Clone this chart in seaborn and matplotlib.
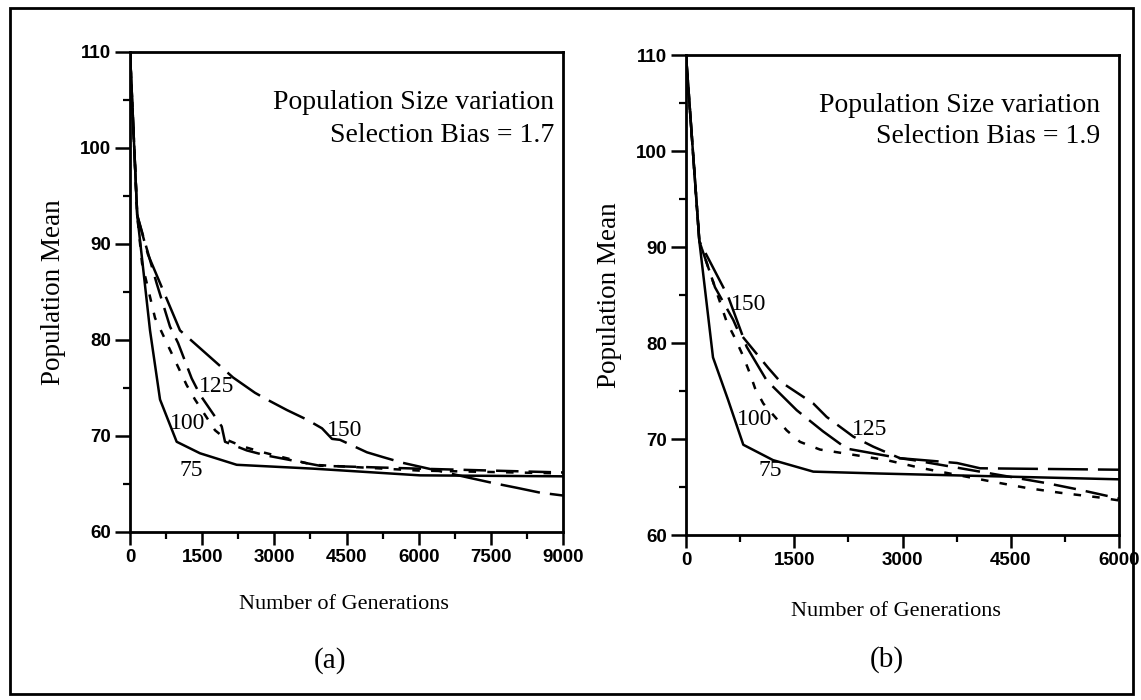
import matplotlib
matplotlib.use("Agg")
import matplotlib.pyplot as plt
from matplotlib.ticker import MultipleLocator
from matplotlib.patches import Rectangle
import seaborn as sns
import pandas as pd

sns.set_theme(style="white")
plt.rcParams["font.family"] = ["Liberation Serif", "DejaVu Serif"]

# ---- data: population mean vs generations, one curve per population size ----
# (a) selection bias 1.7
a75_x = [0, 150, 416, 624, 970, 1455, 2218, 3804, 6028, 9000]
a75_y = [110, 93.0, 81.0, 73.8, 69.4, 68.2, 67.0, 66.6, 65.9, 65.8]

a100_x = [0, 150, 250, 520, 867, 1178, 1351, 1767, 2010, 2349, 2764, 3804, 6000, 9000]
a100_y = [110, 93.0, 88.0, 82.3, 78.6, 75.3, 73.8, 70.6, 69.6, 68.9, 68.3, 67.0, 66.4, 66.1]

a125_x = [0, 150, 554, 831, 998, 1282, 1455, 1906, 1975, 2426, 2806, 3533, 3949, 6000, 9000]
a125_y = [110, 93.0, 85.9, 81.4, 79.7, 76.0, 74.3, 71.0, 69.4, 68.5, 68.0, 67.3, 66.9, 66.6, 66.2]

a150_x = [0, 150, 374, 1039, 2141, 2598, 2847, 3263, 3679, 3991, 4199, 4365, 4926, 5259, 5674,
          6028, 7005, 7545, 8044, 8522, 9000]
a150_y = [110, 93.0, 88.9, 81.0, 76.1, 74.5, 73.8, 72.7, 71.7, 70.8, 69.7, 69.6, 68.3, 67.8, 67.2,
          66.8, 65.7, 65.1, 64.6, 64.1, 63.8]

# (b) selection bias 1.9
b75_x = [0, 185, 374, 582, 794, 1206, 1764, 2700, 6000]
b75_y = [110, 90.6, 78.5, 74.1, 69.4, 67.8, 66.6, 66.4, 65.8]

b100_x = [0, 185, 564, 679, 794, 887, 956, 1071, 1395, 1580, 1857, 2365, 2781, 3243, 4213, 4721,
          5183, 5737, 6000]
b100_y = [110, 90.6, 82.2, 80.5, 78.6, 76.8, 75.3, 73.7, 70.9, 69.7, 68.9, 68.3, 67.8, 67.0, 65.6,
          64.9, 64.4, 63.9, 63.6]

b125_x = [0, 185, 402, 655, 725, 1140, 1303, 1764, 1949, 2318, 2595, 2965, 3150, 4074, 4998,
          5460, 6000]
b125_y = [110, 90.6, 85.8, 82.4, 81.2, 77.4, 76.0, 73.7, 72.3, 70.25, 69.2, 68.0, 67.8, 66.6, 65.4,
          64.7, 63.8]

b150_x = [0, 185, 586, 841, 1118, 1534, 1898, 2227, 2965, 3284, 3755, 4074, 6000]
b150_y = [110, 90.6, 84.8, 79.6, 76.1, 73.0, 70.8, 69.0, 68.0, 67.8, 67.5, 66.95, 66.8]

sizes = ["75", "100", "125", "150"]
styles = {
    "75": "-",
    "100": (0, (3, 4.5)),
    "125": (0, (9, 4)),
    "150": (0, (16, 4)),
}

panel_a = {"75": (a75_x, a75_y), "100": (a100_x, a100_y),
           "125": (a125_x, a125_y), "150": (a150_x, a150_y)}
panel_b = {"75": (b75_x, b75_y), "100": (b100_x, b100_y),
           "125": (b125_x, b125_y), "150": (b150_x, b150_y)}

# curve label positions (generation, mean)
labels_a = {"75": (1268, 66.4), "100": (1205, 71.3), "125": (1790, 75.2), "150": (4470, 70.6)}
labels_b = {"75": (1164, 66.7), "100": (956, 72.0), "125": (2550, 71.0), "150": (873, 84.0)}

fig = plt.figure(figsize=(11.41, 7.0), dpi=100)
ax_a = fig.add_axes([130 / 1141, 1 - 532 / 700, 433 / 1141, 480 / 700])
ax_b = fig.add_axes([686 / 1141, 1 - 535 / 700, 433 / 1141, 480 / 700])

tick_family = ["Liberation Sans", "DejaVu Sans"]


def draw_panel(ax, curves, labels, xmax, bias, tag, note_x, note_y, xlab_pos, tag_pos):
    for s in sizes:
        xs, ys = curves[s]
        df = pd.DataFrame({"gen": xs, "mean": ys})
        sns.lineplot(data=df, x="gen", y="mean", ax=ax, color="black", lw=1.8,
                     linestyle=styles[s], sort=False, estimator=None)
    for s, (lx, ly) in labels.items():
        ax.text(lx, ly, s, fontsize=17, ha="center", va="center", color="black")
    ax.set_xlim(0, xmax)
    ax.set_ylim(60, 110)
    ax.xaxis.set_major_locator(MultipleLocator(1500))
    ax.xaxis.set_minor_locator(MultipleLocator(750))
    ax.yaxis.set_major_locator(MultipleLocator(10))
    ax.yaxis.set_minor_locator(MultipleLocator(5))
    ax.tick_params(axis="y", which="major", direction="out", length=11, width=1.8,
                   color="black", pad=2.5, left=True)
    ax.tick_params(axis="x", which="major", direction="out", length=9, width=1.8,
                   color="black", pad=3, bottom=True)
    ax.tick_params(which="minor", direction="out", length=5, width=1.6, color="black",
                   left=True, bottom=True)
    for lab in ax.get_xticklabels() + ax.get_yticklabels():
        lab.set_fontfamily(tick_family)
        lab.set_fontsize(13.5)
        lab.set_fontweight("bold")
        lab.set_color("black")
    for sp in ax.spines.values():
        sp.set_visible(True)
        sp.set_color("black")
        sp.set_linewidth(2)
    ax.set_xlabel("Number of Generations", fontsize=16, color="black", va="center")
    ax.xaxis.set_label_coords(*xlab_pos)
    ax.set_ylabel("Population Mean", fontsize=19.5, labelpad=10, color="black")
    ax.text(note_x, note_y[0], "Population Size variation", transform=ax.transAxes,
            ha="right", va="center", fontsize=20, color="black")
    ax.text(note_x, note_y[1], f"Selection Bias = {bias}", transform=ax.transAxes,
            ha="right", va="center", fontsize=20, color="black")
    ax.text(tag_pos[0], tag_pos[1], tag, transform=ax.transAxes, ha="center", va="center",
            fontsize=21, color="black")


draw_panel(ax_a, panel_a, labels_a, 9000, "1.7", "(a)", 0.979, (0.894, 0.826),
           (0.495, -0.152), (0.462, -0.267))
draw_panel(ax_b, panel_b, labels_b, 6000, "1.9", "(b)", 0.956, (0.895, 0.83),
           (0.485, -0.16), (0.464, -0.26))

# outer frame around both panels
fig.patches.append(Rectangle((10 / 1141, 1 - 694 / 700), 1123 / 1141, 686 / 700,
                             transform=fig.transFigure, fill=False, lw=2, ec="black"))

fig.savefig("out.png", dpi=100, facecolor="white")
